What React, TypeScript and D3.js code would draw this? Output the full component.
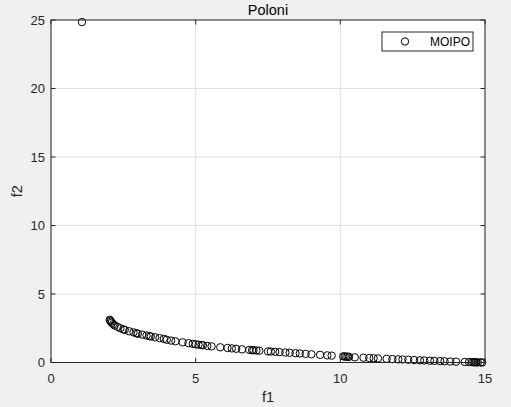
import React from "react";
import * as d3 from "d3";

const title = "Poloni";
const seriesName = "MOIPO";
const xTicks = [0, 5, 10, 15];
const yTicks = [0, 5, 10, 15, 20, 25];

const f1 = [
  1.07, 2.03, 2.05, 2.07, 2.1, 2.15, 2.2, 2.3, 2.4, 2.5, 2.55, 2.7, 2.85, 2.95, 3.0,
  3.15, 3.3, 3.4, 3.45, 3.6, 3.75, 3.9, 4.0, 4.15, 4.3, 4.55, 4.75, 4.9, 5.0,
  5.1, 5.2, 5.25, 5.4, 5.55, 5.85, 6.1, 6.25, 6.4, 6.6, 6.85, 6.95, 7.0, 7.1,
  7.2, 7.5, 7.6, 7.75, 7.9, 8.1, 8.25, 8.45, 8.6, 8.8, 9.0, 9.3, 9.55, 9.7,
  10.1, 10.15, 10.2, 10.25, 10.3, 10.5, 10.8, 11.0, 11.15, 11.3, 11.6, 11.8,
  12.0, 12.15, 12.35, 12.55, 12.75, 12.9, 13.1, 13.25, 13.45, 13.6, 13.8, 14.0,
  14.3, 14.45, 14.55, 14.6, 14.65, 14.7, 14.75, 14.85, 14.9
];
const f2 = [
  24.85, 3.12, 3.05, 2.98, 2.9, 2.8, 2.7, 2.6, 2.5, 2.42, 2.38, 2.28, 2.2, 2.14, 2.1,
  2.04, 1.97, 1.93, 1.9, 1.84, 1.78, 1.72, 1.66, 1.6, 1.55, 1.47, 1.41, 1.36, 1.33,
  1.3, 1.28, 1.26, 1.21, 1.18, 1.11, 1.06, 1.03, 1.0, 0.96, 0.92, 0.9, 0.89, 0.88,
  0.86, 0.81, 0.8, 0.78, 0.76, 0.73, 0.71, 0.68, 0.66, 0.63, 0.6, 0.56, 0.52, 0.5,
  0.45, 0.44, 0.43, 0.42, 0.41, 0.38, 0.35, 0.33, 0.31, 0.3, 0.27, 0.25,
  0.23, 0.22, 0.2, 0.18, 0.16, 0.15, 0.13, 0.12, 0.1, 0.09, 0.07, 0.06,
  0.04, 0.03, 0.025, 0.02, 0.015, 0.012, 0.01, 0.005, 0.0
];

const W = 511;
const H = 407;
const L = 51, R = 485, T = 20, B = 362.5;
const font = "'Liberation Sans', Arial, Helvetica, sans-serif";
const axisColor = "#262626";
const gridColor = "#dfdfdf";

export default function App() {
  const x = d3.scaleLinear().domain([0, 15]).range([L, R]);
  const y = d3.scaleLinear().domain([0, 25]).range([B, T]);
  const pts = f1.map((v, i) => ({ x: v, y: f2[i] }));
  const tl = 4.5;
  return (
    <svg
      width={W}
      height={H}
      style={{ position: "fixed", left: 0, top: 0, display: "block" }}
      fontFamily={font}
    >
      <rect x={0} y={0} width={W} height={H} fill="#f0f0f0" />
      <rect x={L} y={T} width={R - L} height={B - T} fill="#ffffff" />
      {xTicks.map((t) => (
        <line key={"gx" + t} x1={x(t)} x2={x(t)} y1={T} y2={B} stroke={gridColor} strokeWidth={1} />
      ))}
      {yTicks.map((t) => (
        <line key={"gy" + t} x1={L} x2={R} y1={y(t)} y2={y(t)} stroke={gridColor} strokeWidth={1} />
      ))}
      {pts.map((p, i) => (
        <circle key={i} cx={x(p.x)} cy={y(p.y)} r={3.7} fill="none" stroke="#000" strokeWidth={1} />
      ))}
      <rect x={L} y={T} width={R - L} height={B - T} fill="none" stroke={axisColor} strokeWidth={1} />
      {xTicks.map((t) => (
        <g key={"tx" + t}>
          <line x1={x(t)} x2={x(t)} y1={B} y2={B - tl} stroke={axisColor} />
          <line x1={x(t)} x2={x(t)} y1={T} y2={T + tl} stroke={axisColor} />
          <text x={x(t)} y={383} fontSize={13} textAnchor="middle" fill={axisColor}>{t}</text>
        </g>
      ))}
      {yTicks.map((t) => (
        <g key={"ty" + t}>
          <line x1={L} x2={L + tl} y1={y(t)} y2={y(t)} stroke={axisColor} />
          <line x1={R} x2={R - tl} y1={y(t)} y2={y(t)} stroke={axisColor} />
          <text x={45} y={y(t)} dy="0.35em" fontSize={13} textAnchor="end" fill={axisColor}>{t}</text>
        </g>
      ))}
      <text x={(L + R) / 2} y={15} fontSize={14.5} textAnchor="middle" fill="#000">{title}</text>
      <text x={(L + R) / 2} y={402} fontSize={14.5} textAnchor="middle" fill={axisColor}>f1</text>
      <text transform={`translate(22,${(T + B) / 2}) rotate(-90)`} fontSize={14.5} textAnchor="middle" fill={axisColor}>f2</text>
      <rect x={382} y={32} width={91} height={19} fill="#fff" stroke={axisColor} strokeWidth={1} />
      <circle cx={405} cy={41.5} r={3.7} fill="none" stroke="#000" strokeWidth={1} />
      <text x={430} y={46} fontSize={12} fill="#000">{seriesName}</text>
    </svg>
  );
}
